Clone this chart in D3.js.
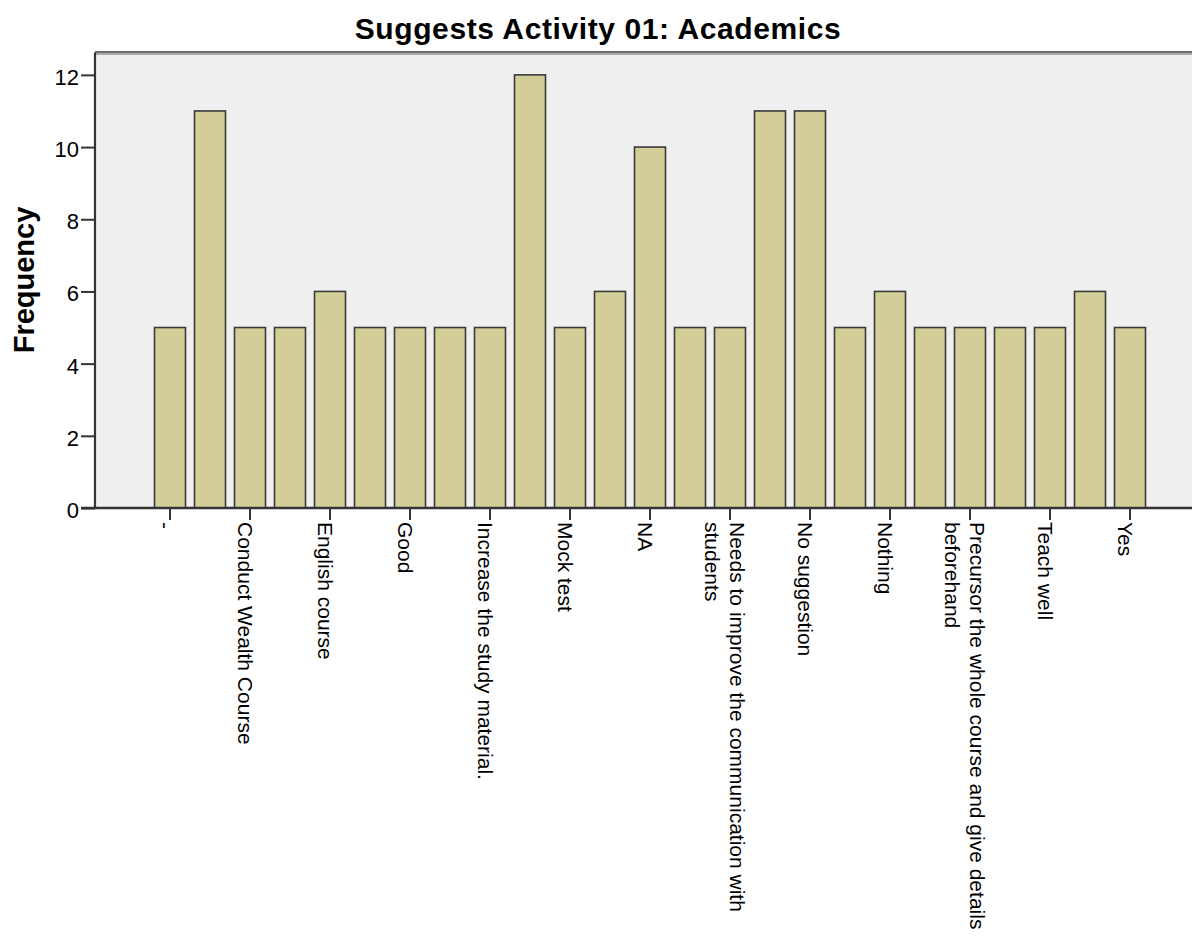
<!DOCTYPE html>
<html>
<head>
<meta charset="utf-8">
<script src="https://cdn.jsdelivr.net/npm/d3@7"></script>
<style>
  html, body { margin: 0; padding: 0; background: #ffffff; }
  svg { display: block; }
  text { font-family: "Liberation Sans", Arial, sans-serif; fill: #000; }
</style>
</head>
<body>
<div id="chart"></div>
<script>
// ---- data ----
const title = "Suggests Activity 01: Academics";
const yTitle = "Frequency";
// 25 response categories (alphabetical); SPSS only prints every other label
const categoryLabels = [
  "-", "", "Conduct Wealth Course", "", "English course", "", "Good", "",
  "Increase the study material.", "", "Mock test", "", "NA", "",
  "Needs to improve the communication with\nstudents", "", "No suggestion", "",
  "Nothing", "", "Precursor the whole course and give details\nbeforehand", "",
  "Teach well", "", "Yes"
];
const frequencies = [5, 11, 5, 5, 6, 5, 5, 5, 5, 12, 5, 6, 10, 5, 5, 11, 11, 5, 6, 5, 5, 5, 5, 6, 5];
const yTicks = [0, 2, 4, 6, 8, 10, 12];

// ---- layout ----
const W = 1192, H = 945;
const plot = { left: 95, right: 1192, top: 52.5, bottom: 508 };

const svg = d3.select("#chart").append("svg")
  .attr("width", W).attr("height", H);

const x = d3.scaleBand()
  .domain(d3.range(frequencies.length))
  .range([150, 1150])
  .paddingInner(0.225)
  .paddingOuter(0.1125);

const y = d3.scaleLinear()
  .domain([0, 12.62])
  .range([plot.bottom, plot.top]);

// plot background
svg.append("rect")
  .attr("x", plot.left).attr("y", plot.top)
  .attr("width", plot.right - plot.left).attr("height", plot.bottom - plot.top)
  .attr("fill", "#efefef");

// top frame line
svg.append("line")
  .attr("x1", plot.left).attr("x2", plot.right)
  .attr("y1", plot.top - 0.5).attr("y2", plot.top - 0.5)
  .attr("stroke", "#6e6e6e").attr("stroke-width", 2);
svg.append("line")
  .attr("x1", plot.left).attr("x2", plot.right)
  .attr("y1", plot.top + 1.5).attr("y2", plot.top + 1.5)
  .attr("stroke", "#a8a8a8").attr("stroke-width", 2);

// bars
svg.append("g").selectAll("rect")
  .data(frequencies)
  .join("rect")
  .attr("x", (d, i) => x(i))
  .attr("y", d => y(d))
  .attr("width", x.bandwidth())
  .attr("height", d => y(0) - y(d))
  .attr("fill", "#d3ce97")
  .attr("stroke", "#3a3a3a")
  .attr("stroke-width", 1.6);

// y axis
const yAxis = svg.append("g")
  .attr("transform", `translate(${plot.left},0)`)
  .call(d3.axisLeft(y).tickValues(yTicks).tickSize(14).tickPadding(2).tickFormat(d3.format("d")));
yAxis.select(".domain").attr("stroke", "#333").attr("stroke-width", 2.2)
  .attr("d", `M0,${plot.top}V${plot.bottom}`);
yAxis.selectAll(".tick line").attr("stroke", "#333").attr("stroke-width", 2);
yAxis.selectAll(".tick text")
  .attr("y", 2.5)
  .style("font-size", "22px")
  .style("font-family", "'Liberation Sans', Arial, sans-serif")
  .attr("fill", "#000");

// x axis
const labelledIdx = d3.range(categoryLabels.length).filter(i => categoryLabels[i] !== "");
const xAxis = svg.append("g")
  .attr("transform", `translate(0,${plot.bottom})`)
  .call(d3.axisBottom(x).tickValues(labelledIdx).tickSize(12).tickFormat(""));
xAxis.select(".domain").attr("stroke", "#333").attr("stroke-width", 2.6)
  .attr("d", `M${plot.left - 14},0H${plot.right}`);
xAxis.selectAll(".tick line").attr("stroke", "#333").attr("stroke-width", 2);

xAxis.selectAll(".tick").each(function(i) {
  const lines = categoryLabels[i].split("\n");
  const lh = 25;
  const base = 12.5 - (lines.length - 1) * lh / 2;
  const t = d3.select(this).select("text")
    .attr("transform", "rotate(90)")
    .attr("text-anchor", "start")
    .attr("x", 14).attr("y", 0).attr("dy", null)
    .style("font-size", "21px")
    .style("font-family", "'Liberation Sans', Arial, sans-serif")
    .attr("fill", "#000")
    .text(null);
  lines.forEach((ln, k) => {
    t.append("tspan").attr("x", 14).attr("y", base + k * lh).text(ln);
  });
});

// title
svg.append("text")
  .attr("x", 598).attr("y", 39)
  .attr("text-anchor", "middle")
  .style("font-size", "30px").style("font-weight", "bold")
  .style("letter-spacing", "0.6px")
  .text(title);

// y axis title
svg.append("text")
  .attr("transform", `translate(34,280) rotate(-90)`)
  .attr("text-anchor", "middle")
  .style("font-size", "29px").style("font-weight", "bold")
  .text(yTitle);
</script>
</body>
</html>
